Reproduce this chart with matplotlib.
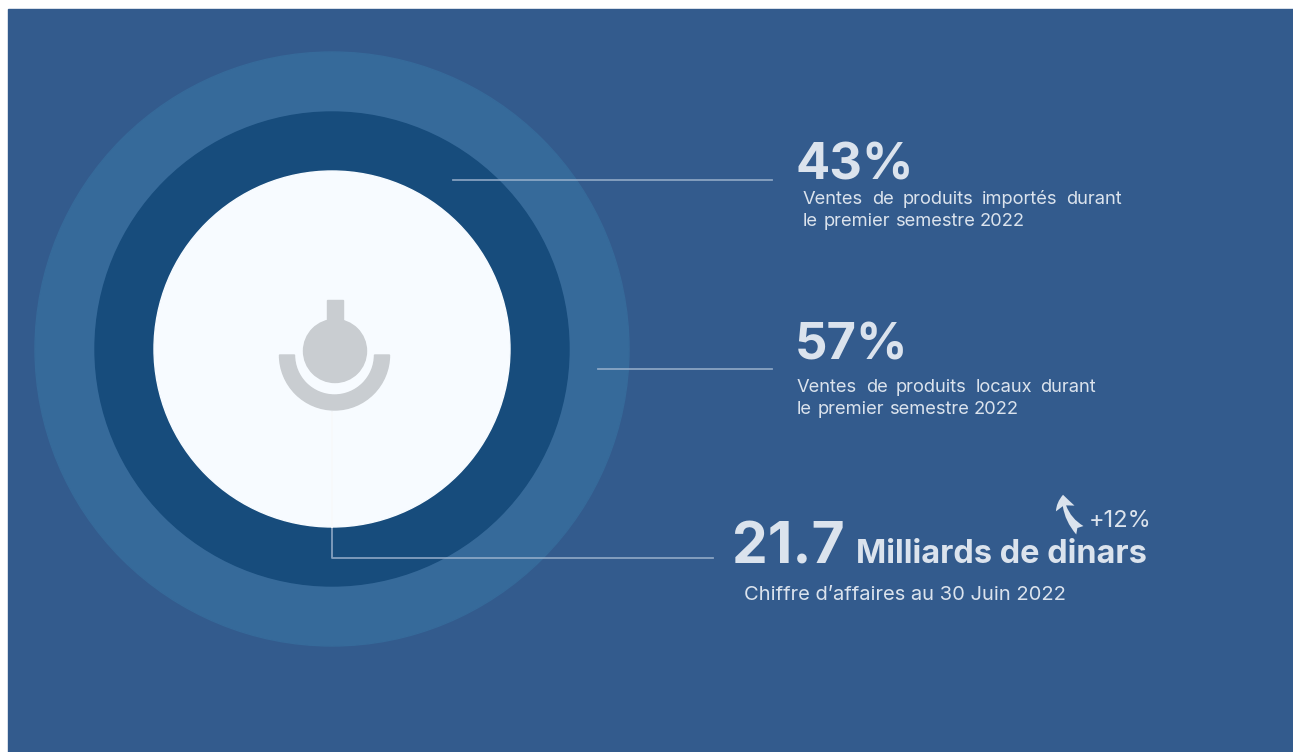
import matplotlib.pyplot as plt
from matplotlib.patches import Circle, Rectangle, Wedge, FancyArrowPatch

# donnees du visuel
parts = [43, 57]
parts_labels = [["Ventes de produits importés durant", "le premier semestre 2022"],
                ["Ventes de produits locaux durant", "le premier semestre 2022"]]
chiffre = 21.7
unite = "Milliards de dinars"
chiffre_label = "Chiffre d\u2019affaires au 30 Juin 2022"
croissance = 12

W, H = 1293, 752
BG = "#335b8d"
TXT = "#dbe3ed"
LINE = "#9fb5cf"

plt.rcParams['font.family'] = ['Inter', 'DejaVu Sans']

fig = plt.figure(figsize=(W / 100, H / 100), dpi=100)
fig.patch.set_facecolor("white")
ax = fig.add_axes([0, 0, 1, 1])
ax.set_xlim(0, W)
ax.set_ylim(H, 0)
ax.set_aspect("equal")
ax.axis("off")
renderer = fig.canvas.get_renderer()


def ligne_justifiee(x, y, texte, largeur, **kw):
    # place les mots un par un pour remplir la largeur voulue (texte justifie)
    mots = texte.split()
    objs = [ax.text(0, y, m, va="baseline", ha="left", **kw) for m in mots]
    larg = [o.get_window_extent(renderer).width for o in objs]
    gap = (largeur - sum(larg)) / max(len(mots) - 1, 1)
    pos = x
    for o, l in zip(objs, larg):
        o.set_x(pos)
        pos += l + gap


# fond bleu
ax.add_patch(Rectangle((8, 9), W, H, color=BG, zorder=0))

# cercles concentriques
cx, cy = 332, 349
ax.add_patch(Circle((cx, cy), 297, color="#366a9a", zorder=1))
ax.add_patch(Circle((cx, cy), 237, color="#174c7c", zorder=2))
ax.add_patch(Circle((cx, cy), 178, color="#f7fbff", zorder=3))

# icone
GRIS = "#c9cdd1"
ax.add_patch(Rectangle((327, 300), 16, 28, color=GRIS, zorder=4))
ax.add_patch(Circle((335, 351), 31.5, color=GRIS, zorder=4))
ax.add_patch(Wedge((334.5, 355), 55, 0, 180, width=15, color=GRIS, zorder=4))

# traits de liaison
ax.plot([453, 772], [180, 180], color=LINE, lw=1.3, alpha=0.8, zorder=5)
ax.plot([598, 772], [369, 369], color=LINE, lw=1.3, alpha=0.8, zorder=5)
ax.plot([332, 332, 713], [412, 558, 558], color=LINE, lw=1.3, alpha=0.8, zorder=5)
ax.plot([332, 332], [412, 527], color="white", lw=1.3, zorder=5)

# pourcentages
ax.text(795, 180, f"{parts[0]}%", color=TXT, fontsize=36.5, fontweight="bold",
        va="baseline", ha="left", zorder=6)
ligne_justifiee(803, 204, parts_labels[0][0], 319, color=TXT, fontsize=13.2, zorder=6)
ligne_justifiee(803, 226, parts_labels[0][1], 222, color=TXT, fontsize=13.2, zorder=6)

ax.text(795, 359, f"{parts[1]}%", color=TXT, fontsize=36.5, fontweight="bold",
        va="baseline", ha="left", zorder=6)
ligne_justifiee(797, 392, parts_labels[1][0], 299, color=TXT, fontsize=13.2, zorder=6)
ligne_justifiee(797, 414, parts_labels[1][1], 222, color=TXT, fontsize=13.2, zorder=6)

# chiffre d'affaires
ax.text(732, 563, f"{chiffre}", color=TXT, fontsize=41, fontweight="bold",
        va="baseline", ha="left", zorder=6)
ax.text(856, 563, unite, color=TXT, fontsize=23.4, fontweight="bold",
        va="baseline", ha="left", zorder=6)
ax.text(744, 600, chiffre_label, color=TXT, fontsize=14.5, va="baseline",
        ha="left", zorder=6)
ax.text(1089, 527, f"+{croissance}%", color=TXT, fontsize=17,
        va="baseline", ha="left", zorder=6)

fl = FancyArrowPatch((1082, 532), (1063, 492),
                     connectionstyle="arc3,rad=-0.25",
                     arrowstyle="fancy,head_length=10,head_width=14,tail_width=8",
                     color=TXT, lw=0, zorder=6)
ax.add_patch(fl)

fig.savefig("out.png", dpi=100, facecolor=fig.get_facecolor())
